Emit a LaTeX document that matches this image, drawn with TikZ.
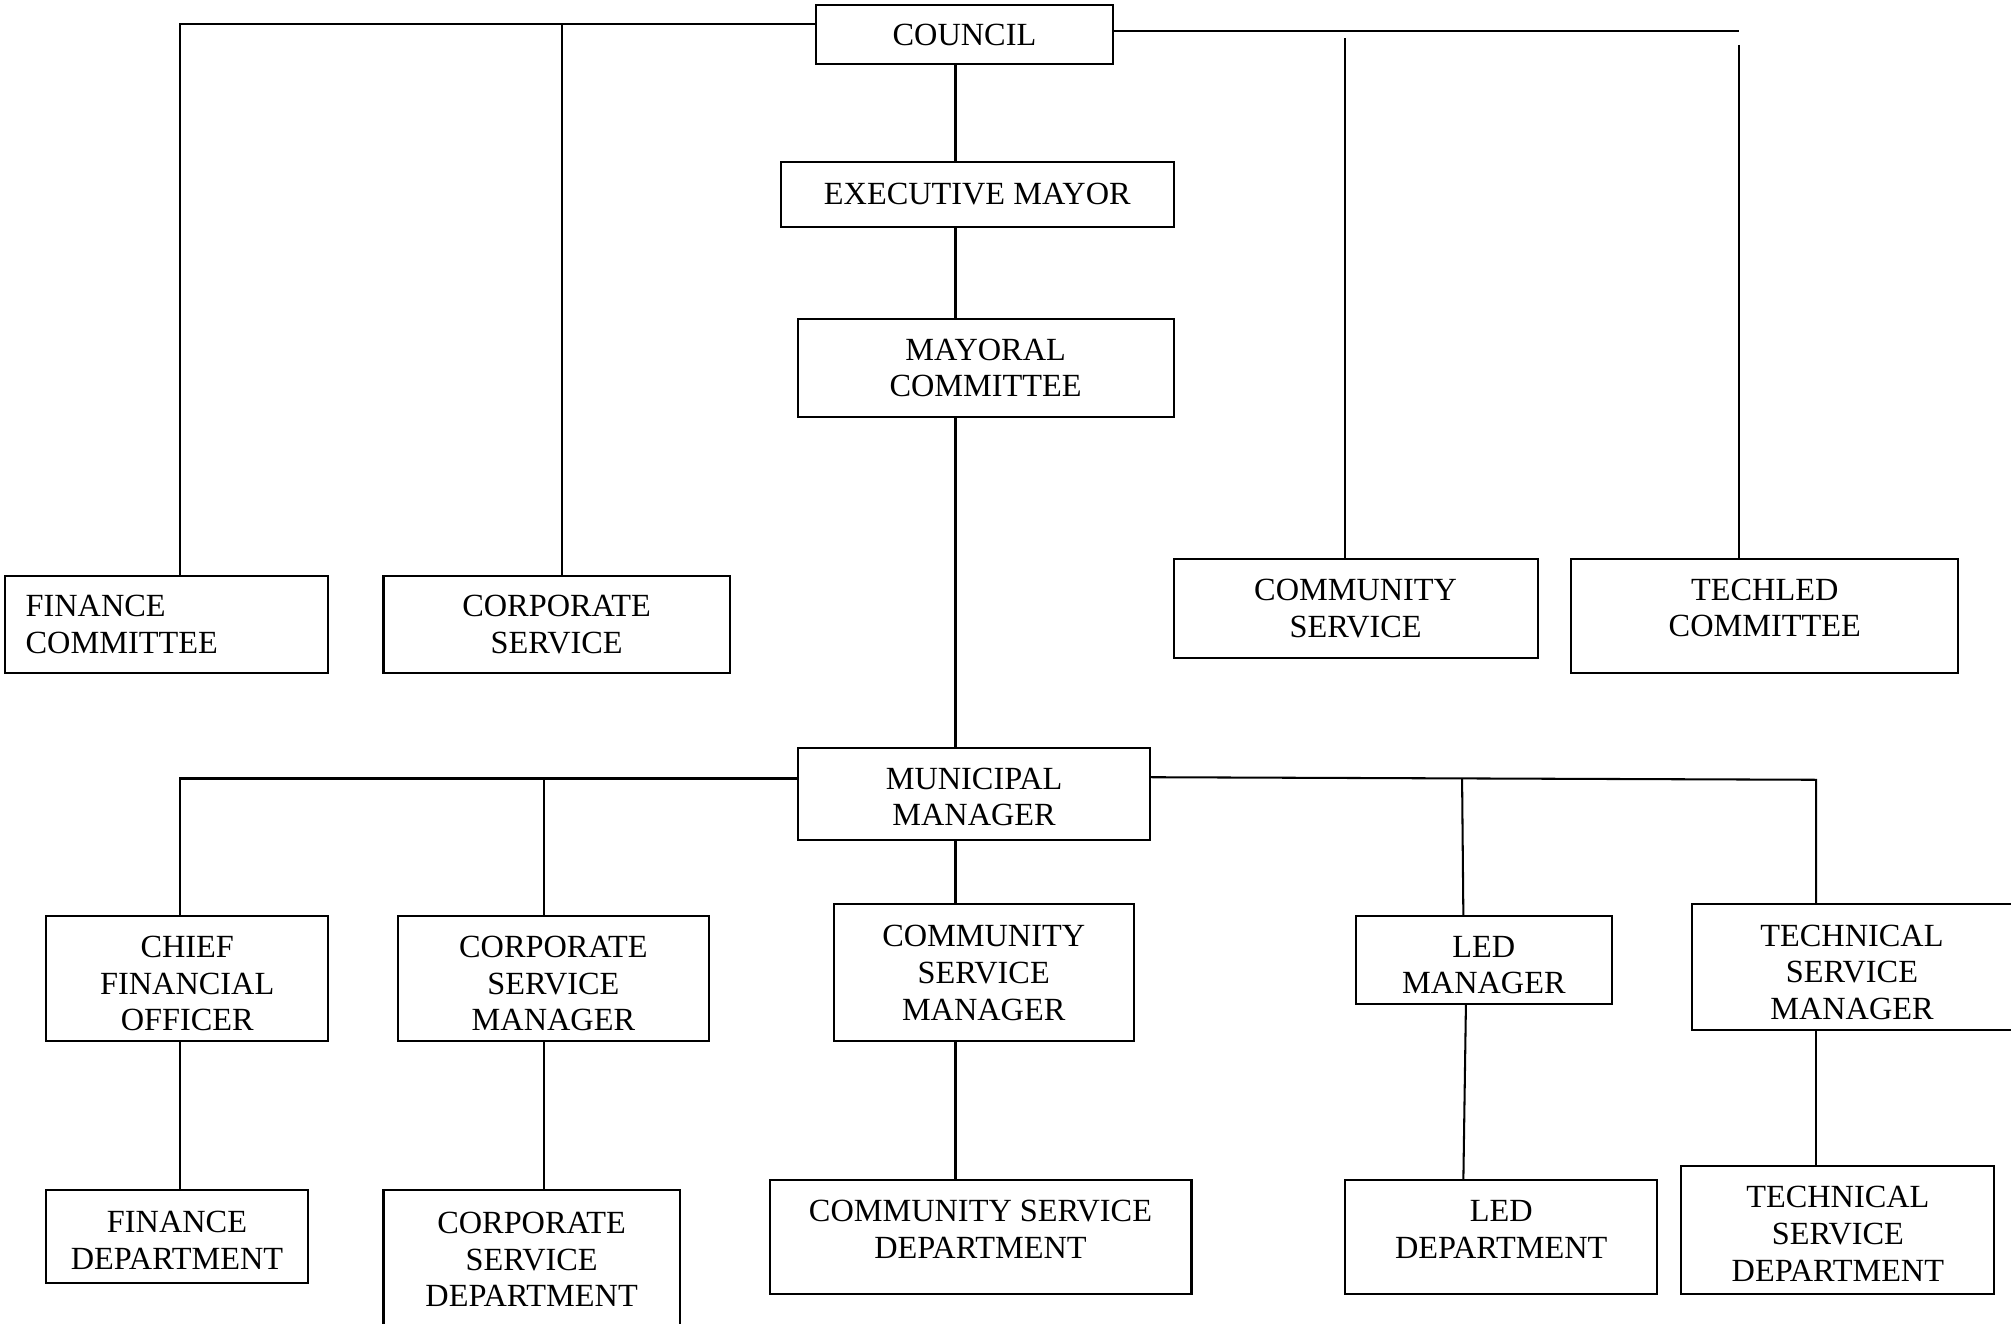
\documentclass[tikz,border=0pt]{standalone}
\usepackage{fontspec}
\setmainfont{Liberation Serif}
\begin{document}
\begin{tikzpicture}[x=0.5pt,y=-0.5pt,
  txt/.style={inner sep=0pt, align=center, font=\fontsize{12.6}{14.3}\selectfont},
  box/.style={draw, line width=0.8pt, txt},
  conn/.style={line width=0.8pt}]
\useasboundingbox (0,0) rectangle (1568,1032);
\clip (0,0) rectangle (1568,1032);
\fill[white] (0,0) rectangle (1568,1032);
% top level
\node[box, minimum width=116pt, minimum height=23pt] (council) at (752,27) {COUNCIL};
\node[box, minimum width=153pt, minimum height=25.5pt] (exec) at (762,151.5) {EXECUTIVE MAYOR};
\node[box, minimum width=146.5pt, minimum height=38pt] (mayoral) at (768.5,287) {MAYORAL\\COMMITTEE};
% committees
\node[box, align=left, text width=110pt, inner xsep=8pt, minimum height=38pt] (fincom) at (130,487) {FINANCE\\COMMITTEE};
\node[box, minimum width=135pt, minimum height=38pt] (corpserv) at (434,487) {CORPORATE\\SERVICE};
\node[box, minimum width=142pt, minimum height=38.5pt] (commserv) at (1057,474.5) {COMMUNITY\\SERVICE};
\node[box, minimum width=151pt, minimum height=44.5pt,
  label={[txt, yshift=3.2pt]center:TECHLED\\COMMITTEE}] (techled) at (1376,480.5) {};
% municipal manager
\node[box, minimum width=137.5pt, minimum height=36pt,
  label={[txt, yshift=-1.2pt]center:MUNICIPAL\\MANAGER}] (munic) at (759.5,619) {};
% managers
\node[box, minimum width=110pt, minimum height=49pt,
  label={[txt, yshift=-2pt]center:CHIEF\\FINANCIAL\\OFFICER}] (cfo) at (146,763) {};
\node[box, minimum width=121.5pt, minimum height=49pt,
  label={[txt, yshift=-2pt]center:CORPORATE\\SERVICE\\MANAGER}] (csm) at (431.5,763) {};
\node[box, minimum width=117pt, minimum height=53.5pt] (comsm) at (767,758.5) {COMMUNITY\\SERVICE\\MANAGER};
\node[box, minimum width=100pt, minimum height=34.5pt,
  label={[txt, yshift=-2pt]center:LED\\MANAGER}] (ledm) at (1157,748.5) {};
\node[box, minimum width=125pt, minimum height=49pt,
  label={[txt, yshift=-2pt]center:TECHNICAL\\SERVICE\\MANAGER}] (tsm) at (1444,754) {};
% departments
\node[box, minimum width=102pt, minimum height=36pt,
  label={[txt, yshift=-1.5pt]center:FINANCE\\DEPARTMENT}] (findept) at (138,964) {};
\node[box, minimum width=115.5pt, minimum height=54pt] (corpdept) at (414.5,982) {CORPORATE\\SERVICE\\DEPARTMENT};
\node[box, minimum width=164.5pt, minimum height=44.5pt,
  label={[txt, yshift=3pt]center:COMMUNITY SERVICE\\DEPARTMENT}] (comdept) at (764.5,964.5) {};
\node[box, minimum width=121.5pt, minimum height=44.5pt,
  label={[txt, yshift=3pt]center:LED\\DEPARTMENT}] (leddept) at (1170.5,964.5) {};
\node[box, minimum width=122pt, minimum height=50pt,
  label={[txt, yshift=-1.5pt]center:TECHNICAL\\SERVICE\\DEPARTMENT}] (techdept) at (1433,959) {};
% helper coordinates
\coordinate (mx) at (745,0);
\coordinate (cl1) at (140,19);
\coordinate (cl2) at (438,19);
\coordinate (cr) at (1356,24);
\coordinate (cr1) at (1049,30);
\coordinate (cr2) at (1356,35);
\coordinate (ml1) at (140,607);
\coordinate (ml2) at (424,607);
\coordinate (mr0) at (897,606);
\coordinate (mr1) at (1140,607);
\coordinate (mr1b) at (1141,714);
\coordinate (mr2) at (1416,608);
\coordinate (ledt) at (1143,783);
\coordinate (ledb) at (1141,920);
% council connectors
\draw[conn] (council.west |- cl1) -- (cl1) -- (cl1 |- fincom.north);
\draw[conn] (cl2) -- (cl2 |- corpserv.north);
\draw[conn] (council.east |- cr) -- (cr);
\draw[conn] (cr1) -- (cr1 |- commserv.north);
\draw[conn] (cr2) -- (cr2 |- techled.north);
\draw[conn] (council.south -| mx) -- (exec.north -| mx);
\draw[conn] (exec.south -| mx) -- (mayoral.north -| mx);
\draw[conn] (mayoral.south -| mx) -- (munic.north -| mx);
% municipal connectors
\draw[conn] (munic.west |- ml1) -- (ml1) -- (ml1 |- cfo.north);
\draw[conn] (ml2) -- (ml2 |- csm.north);
\draw[conn] (mr0) -- (mr2) -- (mr2 |- tsm.north);
\draw[conn] (mr1) -- (mr1b);
\draw[conn] (munic.south -| mx) -- (comsm.north -| mx);
% departments
\draw[conn] (cfo.south -| ml1) -- (findept.north -| ml1);
\draw[conn] (csm.south -| ml2) -- (corpdept.north -| ml2);
\draw[conn] (comsm.south -| mx) -- (comdept.north -| mx);
\draw[conn] (ledt) -- (ledb);
\draw[conn] (tsm.south -| mr2) -- (techdept.north -| mr2);
\end{tikzpicture}
\end{document}
